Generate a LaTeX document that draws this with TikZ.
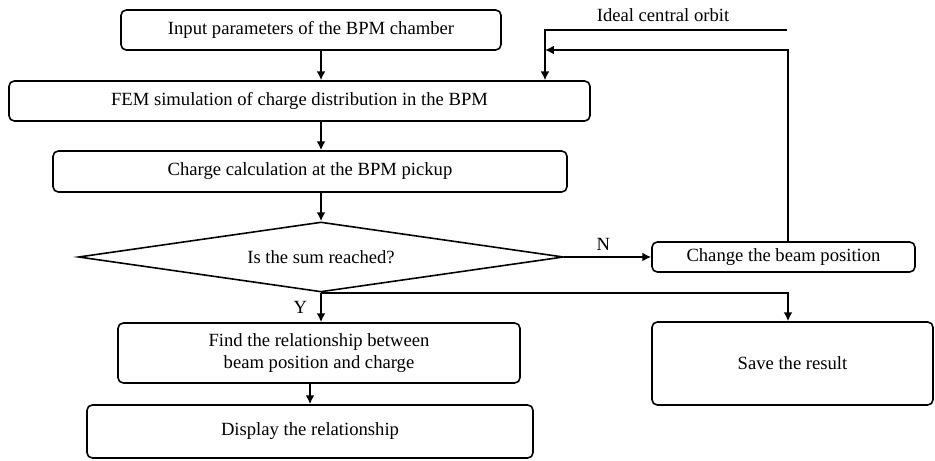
\documentclass[tikz,border=0pt]{standalone}
\usepackage{fontspec}
\setmainfont{Liberation Serif}
\usetikzlibrary{shapes.geometric,arrows.meta}

\begin{document}
\begin{tikzpicture}[>={Latex[length=5pt,width=5pt]},
  font=\fontsize{10.6}{12.6}\selectfont,
  box/.style={draw, line width=0.9pt, rounded corners=3pt, align=center, inner sep=0pt},
  link/.style={line width=1.1pt}]
  \useasboundingbox (0,0) rectangle (18.7,-9.22);
  \node[box, minimum width=7.6cm,  minimum height=0.8cm]  (in)   at (6.22,-0.6)  {Input parameters of the BPM chamber};
  \node[box, minimum width=11.62cm, minimum height=0.8cm] (fem)  at (5.99,-2.02) {FEM simulation of charge distribution in the BPM};
  \node[box, minimum width=10.28cm, minimum height=0.82cm] (calc) at (6.2,-3.43) {Charge calculation at the BPM pickup};
  \node[draw, line width=0.9pt, diamond, aspect=6.9, inner sep=0pt, minimum width=9.7cm, minimum height=1.4cm] (sum) at (6.42,-5.14) {Is the sum reached?};
  \node[box, minimum width=5.26cm, minimum height=0.6cm]  (chg)  at (15.67,-5.14) {Change the beam position};
  \node[box, minimum width=8.04cm, minimum height=1.2cm]  (find) at (6.38,-7.06) {Find the relationship between\\beam position and charge};
  \node[box, minimum width=8.92cm, minimum height=1.06cm] (disp) at (6.2,-8.63)  {Display the relationship};
  \node[box, minimum width=5.62cm, minimum height=1.66cm] (save) at (15.85,-7.27) {Save the result};
  \coordinate (axis) at (6.42,0);
  \coordinate (o1) at (15.74,-0.6);
  \coordinate (o2) at (10.9,-0.6);
  \coordinate (join) at (10.9,-1.0);
  \coordinate (split) at (15.76,0);
  \node (orbit) at (13.26,-0.3) {Ideal central orbit};
  \draw[link,->] (in.south -| axis) -- (fem.north -| axis);
  \draw[link,->] (fem.south -| axis) -- (calc.north -| axis);
  \draw[link,->] (calc.south -| axis) -- (sum.north);
  \draw[link,->] (sum.east) -- (chg.west) node[pos=0.45,above] {N};
  \draw[line width=0.8pt,->] (o1) -- (o2) -- (o2 |- fem.north);
  \draw[line width=1.6pt,->] (chg.north -| split) |- (join);
  \draw[link,->] (sum.south) -- (find.north -| sum.south) node[midway,left=4pt] {Y};
  \draw[link,->] (sum.south) -| (save.north -| split);
  \draw[link,->] (find.south -| disp.north) -- (disp.north);
\end{tikzpicture}
\end{document}
